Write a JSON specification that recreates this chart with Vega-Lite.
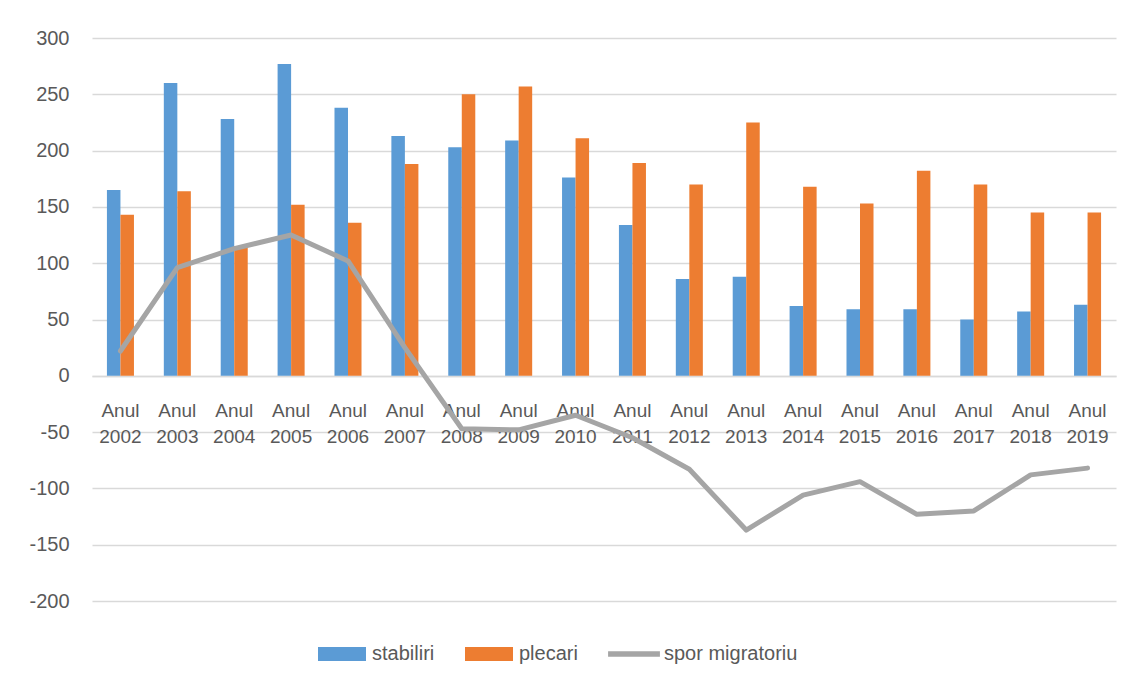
{
  "$schema": "https://vega.github.io/schema/vega-lite/v6.json",
  "width": 1024,
  "height": 563,
  "autosize": {"type": "none"},
  "padding": {"left": 92, "top": 38, "right": 20, "bottom": 81},
  "background": "white",
  "config": {
    "view": {"stroke": null},
    "font": "Liberation Sans"
  },
  "data": {
    "values": [
      {"an": "Anul 2002", "serie": "stabiliri", "valoare": 165},
      {"an": "Anul 2003", "serie": "stabiliri", "valoare": 260},
      {"an": "Anul 2004", "serie": "stabiliri", "valoare": 228},
      {"an": "Anul 2005", "serie": "stabiliri", "valoare": 277},
      {"an": "Anul 2006", "serie": "stabiliri", "valoare": 238},
      {"an": "Anul 2007", "serie": "stabiliri", "valoare": 213},
      {"an": "Anul 2008", "serie": "stabiliri", "valoare": 203},
      {"an": "Anul 2009", "serie": "stabiliri", "valoare": 209},
      {"an": "Anul 2010", "serie": "stabiliri", "valoare": 176},
      {"an": "Anul 2011", "serie": "stabiliri", "valoare": 134},
      {"an": "Anul 2012", "serie": "stabiliri", "valoare": 86},
      {"an": "Anul 2013", "serie": "stabiliri", "valoare": 88},
      {"an": "Anul 2014", "serie": "stabiliri", "valoare": 62},
      {"an": "Anul 2015", "serie": "stabiliri", "valoare": 59},
      {"an": "Anul 2016", "serie": "stabiliri", "valoare": 59},
      {"an": "Anul 2017", "serie": "stabiliri", "valoare": 50},
      {"an": "Anul 2018", "serie": "stabiliri", "valoare": 57},
      {"an": "Anul 2019", "serie": "stabiliri", "valoare": 63},
      {"an": "Anul 2002", "serie": "plecari", "valoare": 143},
      {"an": "Anul 2003", "serie": "plecari", "valoare": 164},
      {"an": "Anul 2004", "serie": "plecari", "valoare": 115},
      {"an": "Anul 2005", "serie": "plecari", "valoare": 152},
      {"an": "Anul 2006", "serie": "plecari", "valoare": 136},
      {"an": "Anul 2007", "serie": "plecari", "valoare": 188},
      {"an": "Anul 2008", "serie": "plecari", "valoare": 250},
      {"an": "Anul 2009", "serie": "plecari", "valoare": 257},
      {"an": "Anul 2010", "serie": "plecari", "valoare": 211},
      {"an": "Anul 2011", "serie": "plecari", "valoare": 189},
      {"an": "Anul 2012", "serie": "plecari", "valoare": 170},
      {"an": "Anul 2013", "serie": "plecari", "valoare": 225},
      {"an": "Anul 2014", "serie": "plecari", "valoare": 168},
      {"an": "Anul 2015", "serie": "plecari", "valoare": 153},
      {"an": "Anul 2016", "serie": "plecari", "valoare": 182},
      {"an": "Anul 2017", "serie": "plecari", "valoare": 170},
      {"an": "Anul 2018", "serie": "plecari", "valoare": 145},
      {"an": "Anul 2019", "serie": "plecari", "valoare": 145},
      {"an": "Anul 2002", "serie": "spor migratoriu", "valoare": 22},
      {"an": "Anul 2003", "serie": "spor migratoriu", "valoare": 96},
      {"an": "Anul 2004", "serie": "spor migratoriu", "valoare": 113},
      {"an": "Anul 2005", "serie": "spor migratoriu", "valoare": 125},
      {"an": "Anul 2006", "serie": "spor migratoriu", "valoare": 102},
      {"an": "Anul 2007", "serie": "spor migratoriu", "valoare": 25},
      {"an": "Anul 2008", "serie": "spor migratoriu", "valoare": -47},
      {"an": "Anul 2009", "serie": "spor migratoriu", "valoare": -48},
      {"an": "Anul 2010", "serie": "spor migratoriu", "valoare": -35},
      {"an": "Anul 2011", "serie": "spor migratoriu", "valoare": -55},
      {"an": "Anul 2012", "serie": "spor migratoriu", "valoare": -83},
      {"an": "Anul 2013", "serie": "spor migratoriu", "valoare": -137},
      {"an": "Anul 2014", "serie": "spor migratoriu", "valoare": -106},
      {"an": "Anul 2015", "serie": "spor migratoriu", "valoare": -94},
      {"an": "Anul 2016", "serie": "spor migratoriu", "valoare": -123},
      {"an": "Anul 2017", "serie": "spor migratoriu", "valoare": -120},
      {"an": "Anul 2018", "serie": "spor migratoriu", "valoare": -88},
      {"an": "Anul 2019", "serie": "spor migratoriu", "valoare": -82}
    ]
  },
  "encoding": {
    "x": {
      "field": "an",
      "type": "nominal",
      "sort": null,
      "scale": {"paddingInner": 0.525, "paddingOuter": 0.2625},
      "axis": {
        "title": null,
        "orient": "bottom",
        "offset": -225,
        "domain": true,
        "domainColor": "#d9d9d9",
        "domainWidth": 1.5,
        "ticks": false,
        "labelAngle": 0,
        "labelExpr": "split(datum.label, ' ')",
        "labelFontSize": 19,
        "labelColor": "#595959",
        "labelLineHeight": 26,
        "labelPadding": 25,
        "labelOverlap": false,
        "labelBound": false,
        "labelFlush": false
      }
    },
    "y": {
      "field": "valoare",
      "type": "quantitative",
      "scale": {"domain": [-200, 300], "nice": false, "zero": false},
      "axis": {
        "title": null,
        "values": [-200, -150, -100, -50, 0, 50, 100, 150, 200, 250, 300],
        "labelExpr": "datum.value + ''",
        "domain": false,
        "ticks": false,
        "grid": true,
        "gridColor": "#d9d9d9",
        "gridWidth": 1.5,
        "labelFontSize": 20,
        "labelColor": "#595959",
        "labelPadding": 23
      }
    },
    "color": {
      "field": "serie",
      "type": "nominal",
      "scale": {
        "domain": ["stabiliri", "plecari", "spor migratoriu"],
        "range": ["#5b9bd5", "#ed7d31", "#a5a5a5"]
      },
      "legend": {
        "title": null,
        "orient": "none",
        "direction": "horizontal",
        "legendX": 226,
        "legendY": 592,
        "labelFontSize": 20,
        "labelColor": "#595959",
        "labelOffset": 6,
        "columnPadding": 30,
        "symbolSize": 2304,
        "symbolType": "M-1,-0.29H1V0.29H-1Z",
        "encode": {
          "symbols": {
            "update": {
              "shape": {"signal": "datum.value === 'spor migratoriu' ? 'M-1.08,-0.11H1.08V0.11H-1.08Z' : 'M-1,-0.29H1V0.29H-1Z'"},
              "fill": {"signal": "scale('color', datum.value)"},
              "stroke": {"value": "transparent"},
              "strokeWidth": {"value": 0},
              "opacity": {"value": 1},
              "fillOpacity": {"value": 1}
            }
          }
        }
      }
    }
  },
  "layer": [
    {
      "transform": [{"filter": "datum.serie !== 'spor migratoriu'"}],
      "mark": {"type": "bar"},
      "encoding": {
        "xOffset": {
          "field": "serie",
          "type": "nominal",
          "sort": ["stabiliri", "plecari"],
          "scale": {"domain": ["stabiliri", "plecari"], "paddingInner": 0, "paddingOuter": 0}
        }
      }
    },
    {
      "transform": [{"filter": "datum.serie === 'spor migratoriu'"}],
      "mark": {"type": "line", "strokeWidth": 5, "strokeJoin": "round", "strokeCap": "round"},
      "encoding": {}
    }
  ]
}
